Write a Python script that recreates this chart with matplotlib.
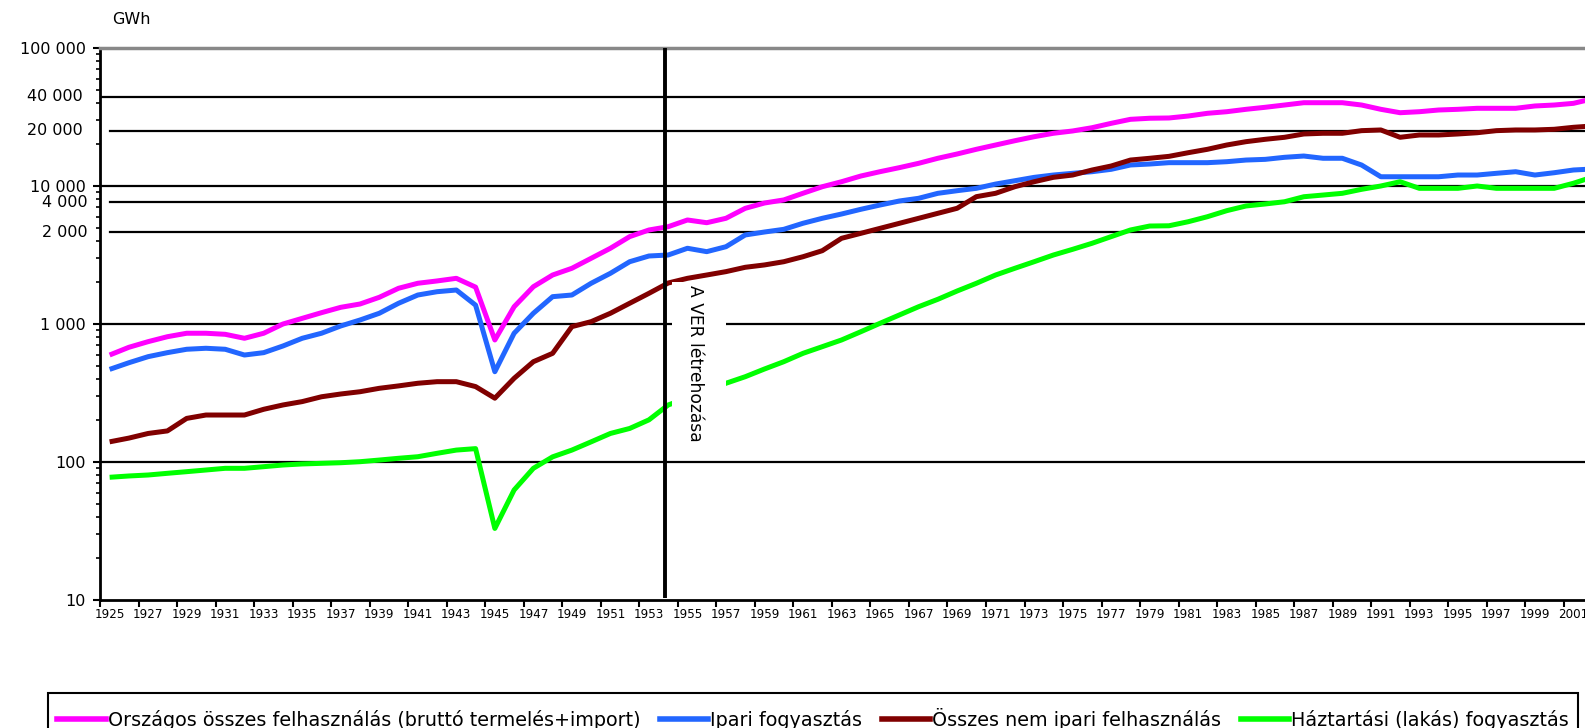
import matplotlib
matplotlib.use("Agg")
import matplotlib.pyplot as plt
from matplotlib.patches import Rectangle
from matplotlib.lines import Line2D
import numpy as np

plt.rcParams['font.family'] = ['DejaVu Sans']

years = list(range(1925, 2003))

total = [596, 678, 745, 809, 857, 857, 842, 788, 857, 1000,
         1099, 1208, 1321, 1396, 1561, 1815, 1973, 2051, 2143, 1850,
         766, 1334, 1863, 2265, 2533, 2993, 3538, 4297, 4800, 5072,
         5672, 5420, 5834, 6890, 7530, 7925, 8860, 9880, 10740, 11810,
         12700, 13580, 14600, 15880, 17060, 18450, 19820, 21290, 22760, 24100,
         25050, 26440, 28450, 30420, 30970, 31110, 32140, 33640, 34540, 35950,
         37190, 38620, 40140, 40140, 40140, 38620, 35950, 33970, 34540, 35540,
         35950, 36560, 36560, 36560, 38010, 38620, 39720, 42850]

industry = [469, 524, 580, 620, 656, 667, 656, 596, 620, 693,
            788, 857, 968, 1069, 1196, 1413, 1622, 1714, 1763, 1370,
            451, 857, 1196, 1578, 1622, 1973, 2330, 2827, 3110, 3162,
            3538, 3344, 3631, 4418, 4641, 4853, 5370, 5834, 6266, 6778,
            7282, 7786, 8144, 8850, 9245, 9620, 10330, 10920, 11550, 12010,
            12360, 12690, 13210, 14200, 14430, 14760, 14760, 14760, 15000, 15420,
            15600, 16140, 16490, 15880, 15880, 14190, 11670, 11670, 11670, 11670,
            12010, 12010, 12360, 12690, 12010, 12480, 13060, 13280]

nonindustry = [140, 149, 161, 168, 207, 219, 219, 219, 241, 259,
               274, 297, 311, 323, 342, 356, 372, 382, 382, 352,
               290, 404, 533, 613, 957, 1040, 1196, 1413, 1668, 1982,
               2143, 2265, 2396, 2576, 2679, 2827, 3073, 3398, 4178, 4539,
               4934, 5364, 5832, 6340, 6893, 8370, 8855, 9885, 10740, 11560,
               12010, 13050, 13960, 15420, 15880, 16400, 17430, 18450, 19820, 20950,
               21800, 22540, 23820, 24100, 24100, 25180, 25470, 22540, 23420, 23420,
               23820, 24320, 25180, 25470, 25470, 25760, 26630, 27230]

household = [77.5, 79.2, 80.5, 82.8, 85.1, 87.5, 90, 90, 92.5, 95.1,
             96.8, 97.8, 98.8, 100.5, 103.3, 106.4, 109.2, 115.6, 122, 125,
             33, 62.7, 90, 109, 122, 140, 161, 175, 202, 259,
             291, 327, 372, 415, 472, 533, 613, 685, 766, 879,
             1012, 1162, 1334, 1510, 1734, 1972, 2265, 2534, 2827, 3162,
             3477, 3842, 4297, 4800, 5128, 5150, 5510, 5993, 6625, 7165,
             7410, 7690, 8360, 8600, 8850, 9460, 10000, 10740, 9620, 9620,
             9620, 10000, 9620, 9620, 9620, 9620, 10470, 11620]

series_names = ["Országos összes felhasználás (bruttó termelés+import)",
                "Ipari fogyasztás",
                "Összes nem ipari felhasználás",
                "Háztartási (lakás) fogyasztás"]
series_colors = ["#FF00FF", "#2266FF", "#800000", "#00FF00"]

major_vals = [10, 100, 1000, 10000, 100000]
major_labels = ["10", "100", "1 000", "10 000", "100 000"]
extra_vals = [44370, 25050, 7620, 4617]
extra_labels = ["40 000", "20 000", "4 000", "2 000"]

label_years = list(range(1925, 2002, 2))

W, H = 1585, 728
fig = plt.figure(figsize=(W / 100, H / 100), dpi=100)
ax = fig.add_axes([100 / W, 1 - 600 / H, 1485 / W, 552 / H])
ax.set_yscale('log')
ax.set_ylim(10, 100000)
ax.set_xlim(1924.5, 2001.6)

# gridlines at decades
for v in major_vals[1:-1]:
    ax.axhline(v, color='black', lw=1.6, zorder=1)
# extra reference lines
for v, lab in zip(extra_vals, extra_labels):
    start = 0 if v > 40000 else 10 / 1485
    off = -17 if v > 10000 else -12
    ax.axhline(v, xmin=start, color='black', lw=1.6, zorder=1)
    ax.text(off / 1485, v, lab, transform=ax.get_yaxis_transform(),
            ha='right', va='center', fontsize=11.5)

series = [total, industry, nonindustry, household]
for vals, name, col in zip(series, series_names, series_colors):
    ax.plot(years, vals, color=col, lw=3.6, label=name, zorder=3,
            solid_joinstyle='round', solid_capstyle='butt')

ax.set_yticks(major_vals)
ax.set_yticklabels(major_labels, fontsize=11.5)
ax.yaxis.set_minor_locator(matplotlib.ticker.LogLocator(base=10, subs=np.arange(2, 10)))
ax.yaxis.set_minor_formatter(matplotlib.ticker.NullFormatter())
ax.tick_params(axis='y', which='major', direction='out', length=5, width=1.5, pad=5)
ax.tick_params(axis='y', which='minor', direction='out', length=3, width=1.2)

boundaries = [y - 0.5 for y in label_years]
ax.set_xticks(boundaries)
ax.set_xticklabels([''] * len(boundaries))
ax.set_xticks(label_years, minor=True)
ax.set_xticklabels([str(y) for y in label_years], minor=True, fontsize=8.6)
ax.tick_params(axis='x', which='major', direction='out', length=5, width=1.5)
ax.tick_params(axis='x', which='minor', length=0, pad=6)

for s in ['left', 'bottom']:
    ax.spines[s].set_linewidth(2)
ax.spines['top'].set_color('#888888')
ax.spines['top'].set_linewidth(2.5)
ax.spines['right'].set_visible(False)

# vertical marker line
ax.plot([1953.85, 1953.85], [100000, 10.4], color='black', lw=2.8, zorder=5,
        solid_capstyle='butt')

# text box with white background
ax.add_patch(Rectangle((672 / W, 1 - 452 / H), 54 / W, 170 / H,
                       transform=fig.transFigure, facecolor='white',
                       edgecolor='none', zorder=4))
ax.text(695 / W, 1 - 285 / H, "A VER létrehozása", transform=fig.transFigure,
        rotation=270, ha='center', va='top', fontsize=12.3, zorder=6)

fig.text(112 / W, 1 - 20 / H, "GWh", ha='left', va='center', fontsize=11.5)

# legend box
fig.add_artist(Rectangle((48 / W, -0.05), 1530 / W, 0.05 + 1 - 693 / H,
                         transform=fig.transFigure, facecolor='none',
                         edgecolor='black', lw=1.5))
handles = [Line2D([], [], color=c, lw=4) for c in series_colors]
fig.legend(handles, series_names, loc='center left',
           bbox_to_anchor=(57 / W, 1 - 719 / H), ncol=4, frameon=False,
           fontsize=13.8, handlelength=2.55, handletextpad=0.1,
           columnspacing=1.0, borderpad=0, borderaxespad=0)

fig.savefig("out.png", dpi=100)
